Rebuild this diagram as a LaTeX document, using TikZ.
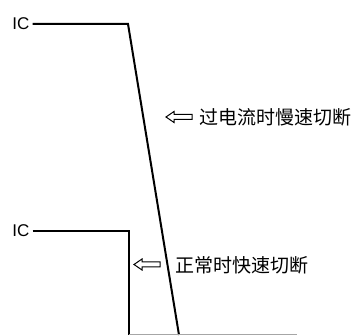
\documentclass[tikz,border=0pt]{standalone}
\usepackage{fontspec}
\setmainfont{Liberation Sans}
\newfontfamily\cjk{Noto Sans CJK SC}
\begin{document}
\begin{tikzpicture}[x=1pt,y=-1pt,
  wave/.style={line width=2pt,line join=miter},
  base/.style={line width=1pt,draw=black!35},
  lbl/.style={font=\fontsize{17}{17}\selectfont,inner sep=0pt,anchor=east},
  cn/.style={font=\cjk\fontsize{19}{19}\selectfont,inner sep=0pt,anchor=west},
  hollow/.style={line width=1pt,line join=miter}]
\useasboundingbox (0,0) rectangle (351,336);
% upper curve
\node[lbl] (ic1) at (29.5,24) {IC};
\coordinate (a1) at (128,24);
\coordinate (a2) at (179,335);
\draw[wave] ([xshift=3pt]ic1.east) -- (a1) -- (a2);
% lower curve
\node[lbl] (ic2) at (29.5,231) {IC};
\coordinate (b1) at (129,231);
\coordinate (b2) at (129,335);
\draw[wave] ([xshift=3pt]ic2.east) -- (b1) -- (b2);
% baseline
\coordinate (g2) at (297,335);
\draw[base] (b2) -- (g2);
% labels
\node[cn] (t1) at (199,117) {过电流时慢速切断};
\draw[hollow] (166,117) -- (174,111.5) -- (174,114.5) -- (192,114.5) -- (192,119.5) -- (174,119.5) -- (174,122.5) -- cycle;
\node[cn] (t2) at (175.5,265) {正常时快速切断};
\draw[hollow] (134,264.5) -- (142,259) -- (142,262) -- (160,262) -- (160,267) -- (142,267) -- (142,270) -- cycle;
\end{tikzpicture}
\end{document}
